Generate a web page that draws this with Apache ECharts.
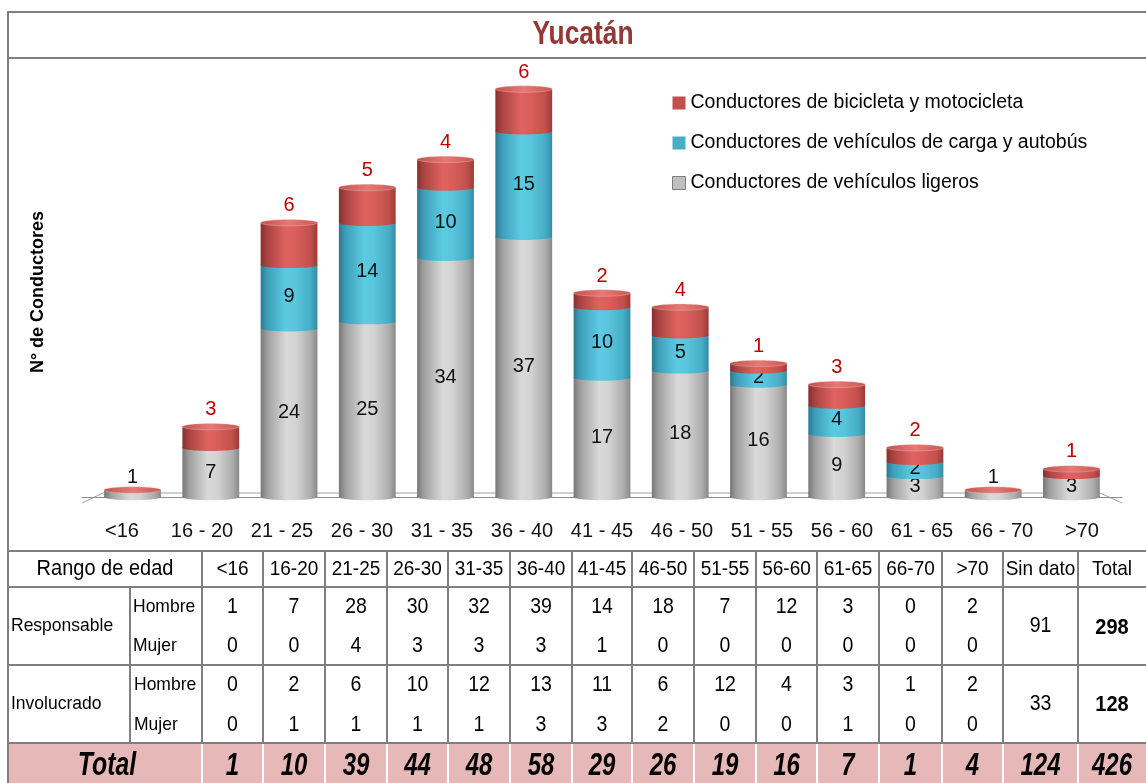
<!DOCTYPE html>
<html>
<head>
<meta charset="utf-8">
<title>Yucatán</title>
<script src="https://cdn.jsdelivr.net/npm/echarts@6/dist/echarts.min.js"></script>
<style>
  html, body { margin: 0; padding: 0; background: #ffffff; }
  #chart { width: 1146px; height: 783px; }
</style>
</head>
<body>
<div id="chart"></div>
<script>
// ---- Chart data ----
const categories = ['<16', '16 - 20', '21 - 25', '26 - 30', '31 - 35', '36 - 40', '41 - 45',
                    '46 - 50', '51 - 55', '56 - 60', '61 - 65', '66 - 70', '>70'];
const ligeros = [1, 7, 24, 25, 34, 37, 17, 18, 16, 9, 3, 1, 3];
const carga   = [0, 0, 9, 14, 10, 15, 10, 5, 2, 4, 2, 0, 0];
const bici    = [0, 3, 6, 5, 4, 6, 2, 4, 1, 3, 2, 0, 1];

const nameBici    = 'Conductores de bicicleta y motocicleta';
const nameCarga   = 'Conductores de vehículos de carga y autobús';
const nameLigeros = 'Conductores de vehículos ligeros';

// ---- Table data ----
const tableAges   = ['<16', '16-20', '21-25', '26-30', '31-35', '36-40', '41-45',
                     '46-50', '51-55', '56-60', '61-65', '66-70', '>70'];
const respHombre  = [1, 7, 28, 30, 32, 39, 14, 18, 7, 12, 3, 0, 2];
const respMujer   = [0, 0, 4, 3, 3, 3, 1, 0, 0, 0, 0, 0, 0];
const invHombre   = [0, 2, 6, 10, 12, 13, 11, 6, 12, 4, 3, 1, 2];
const invMujer    = [0, 1, 1, 1, 1, 3, 3, 2, 0, 0, 1, 0, 0];
const totalEdad   = [1, 10, 39, 44, 48, 58, 29, 26, 19, 16, 7, 1, 4];
const sinDato     = [91, 33];
const sinDatoTotal = 124;
const totalFila   = [298, 128];
const granTotal   = 426;

// ---- Layout & style ----
const FONT = '"Liberation Sans", Arial, sans-serif';
const NARROW_X = 0.8;   // horizontal squeeze used for the condensed headings
const LINE = '#7f7f7f';
const colEdges = [202, 263, 325, 387, 448, 510, 572, 632, 694, 756, 817, 879, 942, 1003];
const sinDatoEdges = [1003, 1078];
const totalEdges = [1078, 1146];
const rows = { head: [551, 587], resp: [587, 665], inv: [665, 743], total: [743, 783] };

function lin(stops) {
  return { type: 'linear', x: 0, y: 0, x2: 1, y2: 0,
           colorStops: stops.map(s => ({ offset: s[0], color: s[1] })) };
}
const palettes = {
  ligeros: lin([[0, '#777777'], [0.12, '#a0a0a0'], [0.45, '#d9d9d9'], [0.62, '#d3d3d3'], [0.88, '#adadad'], [1, '#898989']]),
  carga:   lin([[0, '#2c7890'], [0.12, '#3e9fba'], [0.45, '#5dcbe3'], [0.62, '#58c5dd'], [0.88, '#46adc7'], [1, '#358ca4']]),
  bici:    lin([[0, '#86302e'], [0.12, '#ab4441'], [0.45, '#df6360'], [0.62, '#d95e5a'], [0.88, '#c1504c'], [1, '#9b3a38']]),
  cap:     lin([[0, '#c2524e'], [0.5, '#e47a76'], [1, '#c95854']])
};

function label(text, x, y, fill, font) {
  return { type: 'text', silent: true,
    style: { text: String(text), x: x, y: y, fill: fill, font: font,
             align: 'center', verticalAlign: 'middle', textAlign: 'center', textVerticalAlign: 'middle' } };
}

// Each stack segment is drawn as a shaded cylinder piece.
function cylinder(kind) {
  return function (params, api) {
    const i = api.value(0), base = api.value(1), v = api.value(2);
    const p0 = api.coord([i, base]);
    const p1 = api.coord([i, base + v]);
    const cs = params.coordSys;
    const mid = cs.x + cs.width / 2;
    const bw = api.size([1, 0])[0] * 0.71;
    const cx = p0[0] + (mid - p0[0]) * 0.022;   // slight perspective toward the centre
    const ry = 3.2;
    const children = [];
    const fill = palettes[kind];
    if (v > 0) {
      children.push({ type: 'rect', shape: { x: cx - bw / 2, y: p1[1], width: bw, height: p0[1] - p1[1] }, style: { fill: fill } });
      children.push({ type: 'ellipse', shape: { cx: cx, cy: p0[1], rx: bw / 2, ry: ry }, style: { fill: fill } });
    }
    if (kind === 'bici') {
      children.push({ type: 'ellipse', shape: { cx: cx, cy: p1[1], rx: bw / 2, ry: ry },
                      style: { fill: palettes.cap, stroke: 'rgba(255,200,200,0.6)', lineWidth: 0.6 } });
      if (v > 0) children.push(label(v, cx, p1[1] - 17, '#C00000', '20px ' + FONT));
    } else if (v > 0) {
      const h = p0[1] - p1[1];
      if (h >= 12) children.push(label(v, cx, (p0[1] + p1[1]) / 2, '#111', '20px ' + FONT));
      else children.push(label(v, cx, p1[1] - 12, '#111', '20px ' + FONT));
    }
    return { type: 'group', children: children };
  };
}

// ---- Table graphics ----
const g = [];
function hLine(x1, x2, y, color) { g.push({ type: 'rect', silent: true, shape: { x: x1, y: y - 1, width: x2 - x1, height: 2 }, style: { fill: color || LINE } }); }
function vLine(x, y1, y2, color) { g.push({ type: 'rect', silent: true, shape: { x: x - 1, y: y1, width: 2, height: y2 - y1 }, style: { fill: color || LINE } }); }
function txt(text, x, y, font, align, fill, sx, sy) {
  g.push({ type: 'text', silent: true, x: x, y: y, scaleX: sx || 1, scaleY: sy || 1,
    style: { text: String(text), x: 0, y: 0, font: font, fill: fill || '#000',
             align: align || 'center', verticalAlign: 'middle', textAlign: align || 'center', textVerticalAlign: 'middle' } });
}

// pink total band
g.push({ type: 'rect', silent: true, shape: { x: 8, y: rows.total[0], width: 1146 - 8, height: rows.total[1] - rows.total[0] }, style: { fill: '#E6B9B8' } });

// frame and horizontal rules
hLine(8, 1146, 12);
hLine(8, 1146, 58);
hLine(8, 1146, rows.head[0]);
hLine(8, 1146, rows.head[1]);
hLine(8, 1146, rows.resp[1]);
hLine(8, 1146, rows.inv[1]);
vLine(8, 11, 783);
vLine(130, rows.resp[0], rows.inv[1]);
const allEdges = colEdges.concat([sinDatoEdges[1]]);
allEdges.forEach(x => {
  vLine(x, rows.head[0], rows.inv[1]);
  vLine(x, rows.total[0] + 1, rows.total[1], '#ffffff');
});

const cellFont = '19.5px ' + FONT;
const totFont = 'italic bold 30px ' + FONT;
const SY = 1.1;
const mid = (a, b) => (a + b) / 2;
txt('Rango de edad', 105, mid(rows.head[0], rows.head[1]), '20px ' + FONT, 'center', '#000', 1, SY);
tableAges.forEach((a, i) => {
  const cx = mid(colEdges[i], colEdges[i + 1]);
  txt(a, cx, 569, '19px ' + FONT, 'center', '#000', 1, SY);
  txt(respHombre[i], cx, 607, cellFont, 'center', '#000', 1, SY);
  txt(respMujer[i], cx, 646, cellFont, 'center', '#000', 1, SY);
  txt(invHombre[i], cx, 685, cellFont, 'center', '#000', 1, SY);
  txt(invMujer[i], cx, 725, cellFont, 'center', '#000', 1, SY);
  txt(totalEdad[i], cx, 766, totFont, 'center', '#000', NARROW_X, 1.05);
});
txt('Sin dato', mid(sinDatoEdges[0], sinDatoEdges[1]), 569, '19px ' + FONT, 'center', '#000', 1, SY);
txt('Total', mid(totalEdges[0], totalEdges[1]), 569, '19px ' + FONT, 'center', '#000', 1, SY);
txt('Responsable', 11, 626, '17.5px ' + FONT, 'left', '#000', 1, SY);
txt('Involucrado', 11, 704, '17.5px ' + FONT, 'left', '#000', 1, SY);
txt('Hombre', 133, 607, '17.5px ' + FONT, 'left', '#000', 1, SY);
txt('Mujer', 133, 646, '17.5px ' + FONT, 'left', '#000', 1, SY);
txt('Hombre', 134, 685, '17.5px ' + FONT, 'left', '#000', 1, SY);
txt('Mujer', 134, 725, '17.5px ' + FONT, 'left', '#000', 1, SY);
txt(sinDato[0], mid(sinDatoEdges[0], sinDatoEdges[1]), 626, cellFont, 'center', '#000', 1, SY);
txt(sinDato[1], mid(sinDatoEdges[0], sinDatoEdges[1]), 704, cellFont, 'center', '#000', 1, SY);
txt(totalFila[0], mid(totalEdges[0], totalEdges[1]), 628, 'bold 20px ' + FONT, 'center', '#000', 1, SY);
txt(totalFila[1], mid(totalEdges[0], totalEdges[1]), 705, 'bold 20px ' + FONT, 'center', '#000', 1, SY);
txt('Total', 107, 766, 'italic bold 31px ' + FONT, 'center', '#000', NARROW_X, 1.05);
txt(sinDatoTotal, mid(sinDatoEdges[0], sinDatoEdges[1]), 766, totFont, 'center', '#000', NARROW_X, 1.05);
txt(granTotal, mid(totalEdges[0], totalEdges[1]), 766, totFont, 'center', '#000', NARROW_X, 1.05);

// heading
txt('Yucatán', 583, 35, 'bold 33px ' + FONT, 'center', '#953735', NARROW_X, 1);

// vertical axis title
g.push({ type: 'text', silent: true, x: 38, y: 292, rotation: Math.PI / 2,
  style: { text: 'N° de Conductores', font: 'bold 18px ' + FONT, fill: '#000',
           align: 'center', verticalAlign: 'middle', textAlign: 'center', textVerticalAlign: 'middle' } });

// floor of the plot
g.push({ type: 'polyline', silent: true, shape: { points: [[82, 503], [103, 493], [1100, 493], [1122, 503]] },
         style: { stroke: '#a0a0a0', lineWidth: 1, fill: null } });

// ---- Series data (stack bases come from the arrays) ----
const dLigeros = categories.map((c, i) => [i, 0, ligeros[i]]);
const dCarga   = categories.map((c, i) => [i, ligeros[i], carga[i]]);
const dBici    = categories.map((c, i) => [i, ligeros[i] + carga[i], bici[i]]);

const chart = echarts.init(document.getElementById('chart'), null, { renderer: 'canvas' });
chart.setOption({
  animation: false,
  backgroundColor: '#ffffff',
  legend: {
    orient: 'vertical', left: 667, top: 88, itemWidth: 13, itemHeight: 13, itemGap: 20, icon: 'rect',
    textStyle: { fontSize: 19.5, fontFamily: FONT, color: '#000' },
    data: [
      { name: nameBici, itemStyle: { color: '#C0504D' } },
      { name: nameCarga, itemStyle: { color: '#4BACC6' } },
      { name: nameLigeros, itemStyle: { color: '#BFBFBF', borderColor: '#7f7f7f', borderWidth: 1 } }
    ]
  },
  grid: { left: 82, right: 24, top: 75, bottom: 286 },
  xAxis: {
    type: 'category', data: categories, offset: 6,
    axisLine: { lineStyle: { color: '#8c8c8c', width: 1 } },
    axisTick: { length: 7, lineStyle: { color: '#8c8c8c' } },
    axisLabel: { fontSize: 20, fontFamily: FONT, color: '#111', margin: 18, interval: 0 }
  },
  yAxis: { type: 'value', min: 0, max: 60, show: false, splitLine: { show: false } },
  graphic: g,
  series: [
    { type: 'custom', name: nameLigeros, renderItem: cylinder('ligeros'), data: dLigeros,
      itemStyle: { color: '#BFBFBF' }, encode: { x: 0, y: [1, 2] } },
    { type: 'custom', name: nameCarga, renderItem: cylinder('carga'), data: dCarga,
      itemStyle: { color: '#4BACC6' }, encode: { x: 0, y: [1, 2] } },
    { type: 'custom', name: nameBici, renderItem: cylinder('bici'), data: dBici,
      itemStyle: { color: '#C0504D' }, encode: { x: 0, y: [1, 2] } }
  ]
});
</script>
</body>
</html>
